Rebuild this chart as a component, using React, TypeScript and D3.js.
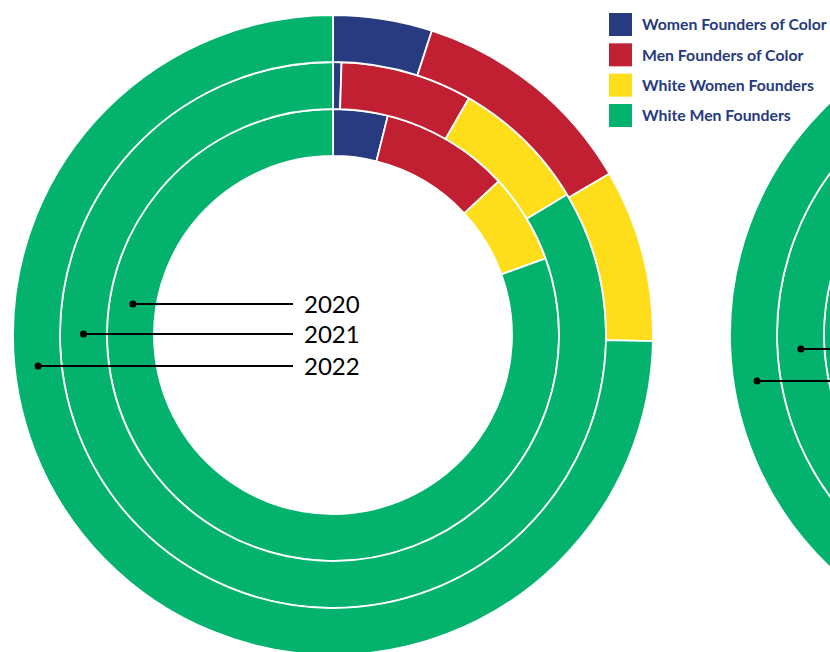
import React from "react";
import * as d3 from "d3";

const years = ["2020", "2021", "2022"];
const categories = [
  "Women Founders of Color",
  "Men Founders of Color",
  "White Women Founders",
  "White Men Founders",
];
const colors = ["#283B80", "#C12033", "#FEDD1A", "#02B26D"];

// Left chart: share of founders (%) per year, inner ring = 2020
const shareA2020 = [3.9, 9.2, 6.4, 80.5];
const shareA2021 = [0.5, 7.8, 8.1, 83.6];
const shareA2022 = [5.0, 11.6, 8.7, 74.7];

// Right chart (mostly cut off; only the white-men part is visible)
const shareB2020 = [4.0, 10.0, 8.0, 78.0];
const shareB2021 = [3.0, 9.0, 8.0, 80.0];
const shareB2022 = [4.5, 10.5, 8.5, 76.5];

const W = 830;
const H = 652;
const textColor = "#263A7E";

type ChartSpec = {
  cx: number;
  cy: number;
  data: number[][];
  labelDy: number[];
  showText: boolean;
};

const charts: ChartSpec[] = [
  { cx: 333, cy: 335, data: [shareA2020, shareA2021, shareA2022], labelDy: [-31, -1, 31], showText: true },
  { cx: 1050, cy: 335, data: [shareB2020, shareB2021, shareB2022], labelDy: [-16, 14, 46], showText: false },
];

const ring = d3.scaleBand<string>().domain(years).range([179, 320]).paddingInner(0);

const pie = d3
  .pie<number>()
  .sort(null)
  .value((d) => d)
  .startAngle(0)
  .endAngle(2 * Math.PI);

function Donut({ spec }: { spec: ChartSpec }) {
  return (
    <g transform={`translate(${spec.cx},${spec.cy})`}>
      {years.map((yr, yi) => {
        const r0 = ring(yr)!;
        const r1 = r0 + ring.bandwidth();
        const arc = d3.arc<d3.PieArcDatum<number>>().innerRadius(r0).outerRadius(r1);
        return (
          <g key={yr}>
            {pie(spec.data[yi]).map((a, i) => (
              <path key={i} d={arc(a) || ""} fill={colors[i]} stroke="#fff" strokeWidth={1.8} />
            ))}
          </g>
        );
      })}
      {years.map((yr, yi) => {
        const rm = ring(yr)! + ring.bandwidth() / 2;
        const dy = spec.labelDy[yi];
        const x0 = -Math.sqrt(rm * rm - dy * dy);
        return (
          <g key={"l" + yr}>
            <line x1={x0} x2={-40} y1={dy} y2={dy} stroke="#000" strokeWidth={2} />
            <circle cx={x0} cy={dy} r={3.5} fill="#000" />
            {spec.showText && (
              <text
                x={-29}
                y={dy}
                dy="0.36em"
                fontFamily="Lato, 'Open Sans', sans-serif"
                fontSize={24}
                fill="#000"
              >
                {yr}
              </text>
            )}
          </g>
        );
      })}
    </g>
  );
}

export default function App() {
  const legendY = d3.scaleLinear().domain([0, 3]).range([13, 104]);
  return (
    <svg
      width={W}
      height={H}
      style={{ position: "absolute", left: 0, top: 0, background: "#fff" }}
    >
      <rect width={W} height={H} fill="#fff" />
      {charts.map((c, i) => (
        <Donut key={i} spec={c} />
      ))}
      <g>
        {categories.map((c, i) => (
          <g key={c} transform={`translate(609,${legendY(i)})`}>
            <rect width={23} height={23} fill={colors[i]} />
            <text
              x={33}
              y={11.5}
              dy="0.36em"
              fontFamily="Lato, 'Open Sans', sans-serif"
              fontWeight={700}
              fontSize={15.8}
              fill={textColor}
            >
              {c}
            </text>
          </g>
        ))}
      </g>
    </svg>
  );
}
